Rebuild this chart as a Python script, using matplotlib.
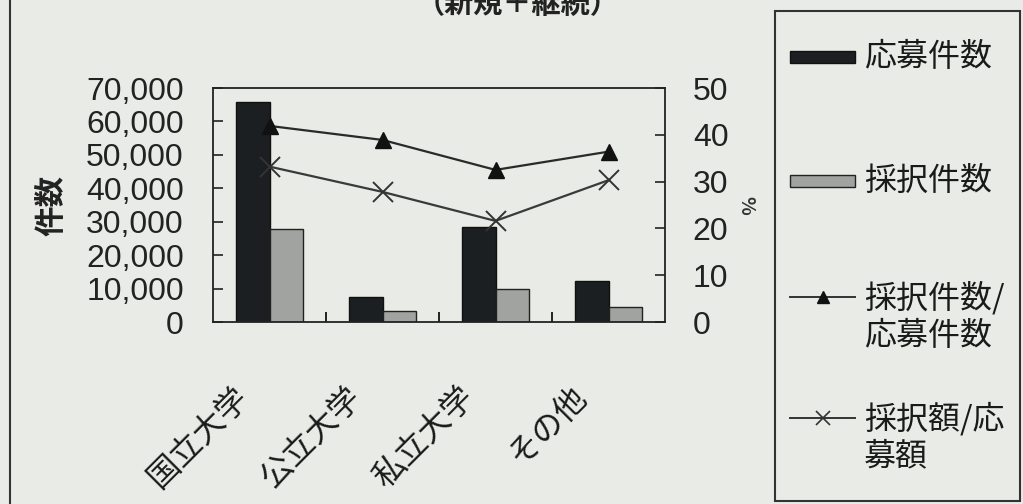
import matplotlib
matplotlib.use("Agg")
import matplotlib.pyplot as plt
import matplotlib.transforms as mtransforms
from matplotlib.lines import Line2D
from matplotlib.patches import Rectangle
from matplotlib.ticker import FuncFormatter, MultipleLocator
import numpy as np

plt.rcParams['font.family'] = ['Noto Sans CJK JP', 'DejaVu Sans']

categories = ['国立大学', '公立大学', '私立大学', 'その他']
applications = [65800, 7600, 28300, 12200]       # 応募件数
adoptions = [27800, 3300, 9800, 4500]            # 採択件数
rate_count = [41.9, 38.9, 32.5, 36.4]            # 採択件数/応募件数 (%)
rate_amount = [33.2, 27.8, 21.6, 30.3]           # 採択額/応募額 (%)
legend_labels = ['応募件数', '採択件数', '採択件数/\n応募件数', '採択額/応\n募額']
title_text = '（新規＋継続）'

BG = '#e9ebe6'
DARK = '#1c1f21'
GRAY = '#a0a3a0'
W, H = 1023, 504

fig = plt.figure(figsize=(W / 100, H / 100), dpi=100, facecolor=BG)

def fx(px):
    return px / W

def fy(py):
    return 1 - py / H

ax = fig.add_axes([fx(213), fy(322), fx(665) - fx(213), fy(88) - fy(322)])
ax.set_facecolor(BG)
x = np.arange(len(categories))
bw = 0.3
ax.bar(x - bw / 2, applications, bw, color=DARK, edgecolor='#111111', linewidth=1.0, zorder=2)
ax.bar(x + bw / 2, adoptions, bw, color=GRAY, edgecolor='#222222', linewidth=1.0, zorder=2)
ax.set_xlim(-0.5, len(categories) - 0.5)
ax.set_ylim(0, 70000)
ax.yaxis.set_major_locator(MultipleLocator(10000))
ax.yaxis.set_major_formatter(FuncFormatter(lambda v, p: f'{int(v):,}'))
ax.tick_params(axis='y', direction='in', length=7, width=1.2, pad=21,
               labelsize=23, colors='#222222')
for lab in ax.get_yticklabels():
    lab.set_family(['Liberation Sans'])
ax.set_xticks(x)
ax.set_xticks(np.arange(len(categories) - 1) + 0.5, minor=True)
ax.tick_params(axis='x', which='major', length=0, pad=0)
ax.tick_params(axis='x', which='minor', direction='in', length=7, width=1.2)
ax.set_xticklabels(categories, rotation=45, ha='right', va='center',
                   rotation_mode='anchor', fontsize=23, color='#1a1a1a')
offset = mtransforms.ScaledTranslation(-26 / 100, -70 / 100, fig.dpi_scale_trans)
for lab in ax.get_xticklabels():
    lab.set_transform(lab.get_transform() + offset)
for s in ax.spines.values():
    s.set_linewidth(1.3)
    s.set_color('#222222')

ax2 = ax.twinx()
ax2.set_ylim(0, 50)
ax2.yaxis.set_major_locator(MultipleLocator(10))
ax2.tick_params(axis='y', direction='in', length=7, width=1.2, pad=20,
                labelsize=23, colors='#222222')
for lab in ax2.get_yticklabels():
    lab.set_family(['Liberation Sans'])
ax2.plot(x, rate_count, color='#2a2a2a', linewidth=1.6, marker='^',
         markersize=12, markerfacecolor='#111111', markeredgecolor='#111111', zorder=3)
ax2.plot(x, rate_amount, color='#3a3a3a', linewidth=1.6, marker='x',
         markersize=14, markeredgewidth=1.4, markeredgecolor='#333333', zorder=3)
for s in ax2.spines.values():
    s.set_visible(False)

fig.text(fx(51), fy(205), '件数', rotation=90, ha='center', va='center',
         fontsize=22, fontweight='bold', color='#222222')
fig.text(fx(746), fy(205), '%', rotation=270, ha='center', va='center',
         fontsize=14, fontweight='bold', color='#333333')
fig.text(fx(518), fy(4), title_text, ha='center', va='center',
         fontsize=21, fontweight='bold', color='#222222')

# outer frame line on the left
fig.add_artist(Line2D([fx(10), fx(10)], [0, 1], color='#333333', linewidth=1.5))

# legend box
fig.add_artist(Rectangle((fx(775), fy(501)), fx(1020) - fx(775), fy(11) - fy(501),
                         transform=fig.transFigure, facecolor='none',
                         edgecolor='#333333', linewidth=1.5))
hx0, hx1 = 790, 855
tx = 864
entries_y = [57, 181, 297, 418]
fig.add_artist(Rectangle((fx(hx0), fy(entries_y[0] + 6)), fx(hx1) - fx(hx0), fy(entries_y[0] - 6) - fy(entries_y[0] + 6),
                         transform=fig.transFigure, facecolor=DARK, edgecolor='#111111', linewidth=1))
fig.add_artist(Rectangle((fx(hx0), fy(entries_y[1] + 6)), fx(hx1) - fx(hx0), fy(entries_y[1] - 6) - fy(entries_y[1] + 6),
                         transform=fig.transFigure, facecolor=GRAY, edgecolor='#222222', linewidth=1))
fig.add_artist(Line2D([fx(hx0), fx(hx1)], [fy(entries_y[2])] * 2, color='#333333', linewidth=1.4))
fig.add_artist(Line2D([fx((hx0 + hx1) / 2)], [fy(entries_y[2])], marker='^', markersize=9,
                      color='#111111', linestyle='none'))
fig.add_artist(Line2D([fx(hx0), fx(hx1)], [fy(entries_y[3])] * 2, color='#333333', linewidth=1.4))
fig.add_artist(Line2D([fx((hx0 + hx1) / 2)], [fy(entries_y[3])], marker='x', markersize=10,
                      markeredgewidth=1.2, color='#333333', linestyle='none'))
for yy, lab in zip(entries_y, legend_labels):
    fig.text(fx(tx), fy(yy - 16), lab, ha='left', va='top', fontsize=23,
             color='#1a1a1a', linespacing=1.2)

fig.savefig('out.png', dpi=100, facecolor=BG)
